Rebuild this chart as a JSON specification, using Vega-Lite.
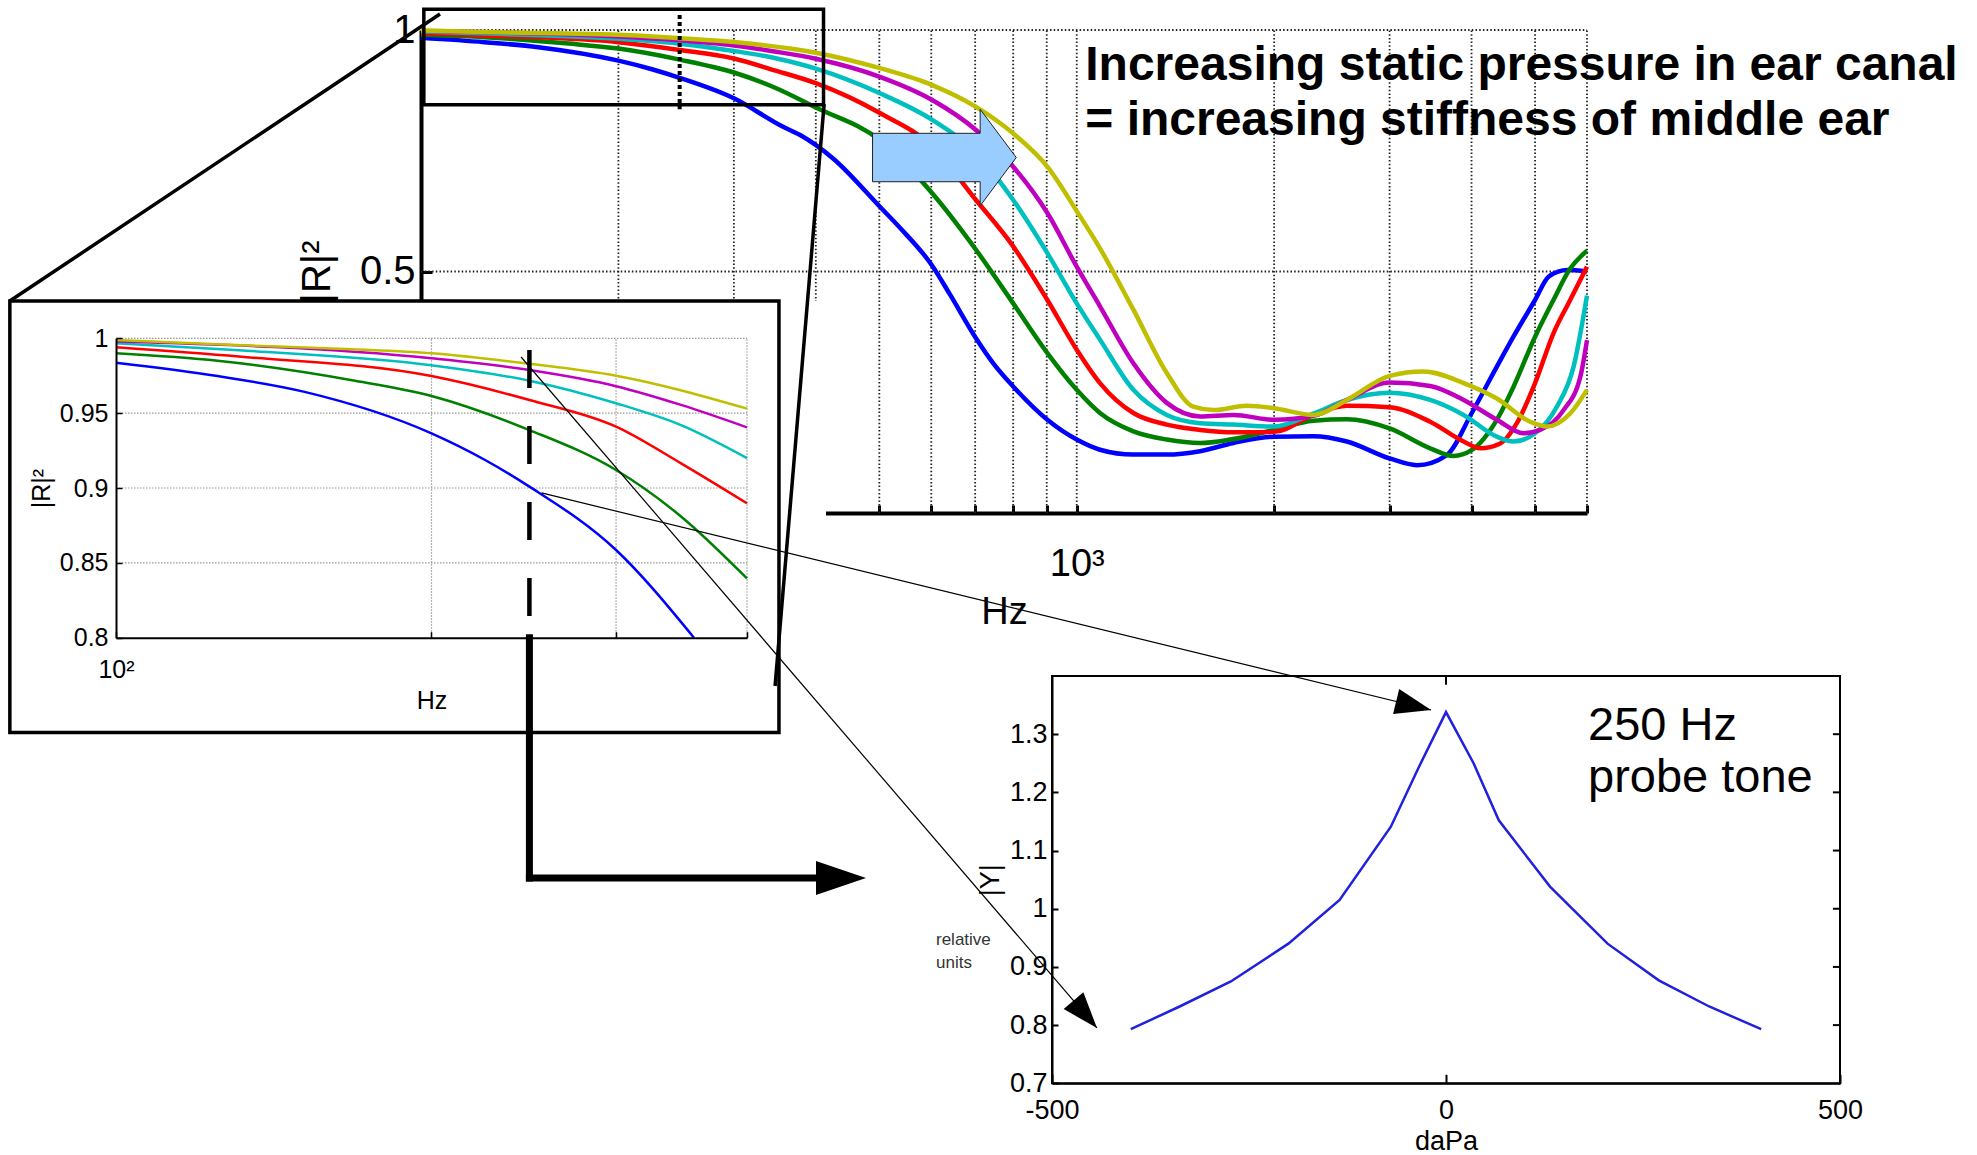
{
"$schema":"https://vega.github.io/schema/vega-lite/v6.json",
"width":1977,"height":1155,"padding":0,"autosize":{"type":"none"},"background":"white",
"config":{"view":{"stroke":null},
"axis":{"labelFont":"Liberation Sans","titleFont":"Liberation Sans","labelColor":"#000","titleColor":"#000","domainColor":"#000","tickColor":"#000","titleFontWeight":"normal","grid":false,"labelOverlap":false,"labelFlush":false,"labelBound":false},
"text":{"font":"Liberation Sans"}},
"datasets":{
"curves":[
{"s":"blue","f":100,"r":0.9837},{"s":"blue","f":125,"r":0.9748},{"s":"blue","f":151,"r":0.9644},{"s":"blue","f":200,"r":0.9365},{"s":"blue","f":225,"r":0.9187},{"s":"blue","f":248,"r":0.9009},{"s":"blue","f":300,"r":0.8586},{"s":"blue","f":356,"r":0.8},{"s":"blue","f":378,"r":0.783},{"s":"blue","f":425,"r":0.734},{"s":"blue","f":501,"r":0.634},{"s":"blue","f":538,"r":0.59},{"s":"blue","f":602,"r":0.512},{"s":"blue","f":641,"r":0.452},{"s":"blue","f":702,"r":0.362},{"s":"blue","f":746,"r":0.31},{"s":"blue","f":800,"r":0.262},{"s":"blue","f":902,"r":0.193},{"s":"blue","f":1000,"r":0.152},{"s":"blue","f":1085,"r":0.131},{"s":"blue","f":1220,"r":0.121},{"s":"blue","f":1372,"r":0.121},{"s":"blue","f":1542,"r":0.128},{"s":"blue","f":1734,"r":0.145},{"s":"blue","f":2000,"r":0.158},{"s":"blue","f":2296,"r":0.159},{"s":"blue","f":2582,"r":0.148},{"s":"blue","f":3000,"r":0.113},{"s":"blue","f":3302,"r":0.099},{"s":"blue","f":3668,"r":0.12},{"s":"blue","f":4000,"r":0.206},{"s":"blue","f":4372,"r":0.303},{"s":"blue","f":4634,"r":0.365},{"s":"blue","f":5000,"r":0.441},{"s":"blue","f":5250,"r":0.49},{"s":"blue","f":5600,"r":0.503},{"s":"blue","f":6000,"r":0.5},
{"s":"green","f":100,"r":0.99},{"s":"green","f":125,"r":0.985},{"s":"green","f":168,"r":0.972},{"s":"green","f":200,"r":0.9615},{"s":"green","f":248,"r":0.9387},{"s":"green","f":300,"r":0.912},{"s":"green","f":346,"r":0.881},{"s":"green","f":400,"r":0.8396},{"s":"green","f":501,"r":0.772},{"s":"green","f":602,"r":0.662},{"s":"green","f":702,"r":0.545},{"s":"green","f":800,"r":0.434},{"s":"green","f":902,"r":0.331},{"s":"green","f":1000,"r":0.255},{"s":"green","f":1085,"r":0.207},{"s":"green","f":1220,"r":0.169},{"s":"green","f":1372,"r":0.152},{"s":"green","f":1542,"r":0.145},{"s":"green","f":1714,"r":0.152},{"s":"green","f":2000,"r":0.172},{"s":"green","f":2296,"r":0.191},{"s":"green","f":2582,"r":0.194},{"s":"green","f":3000,"r":0.175},{"s":"green","f":3459,"r":0.134},{"s":"green","f":3754,"r":0.118},{"s":"green","f":4000,"r":0.13},{"s":"green","f":4372,"r":0.193},{"s":"green","f":4634,"r":0.261},{"s":"green","f":5000,"r":0.365},{"s":"green","f":5333,"r":0.441},{"s":"green","f":5650,"r":0.505},{"s":"green","f":6000,"r":0.543},
{"s":"red","f":100,"r":0.994},{"s":"red","f":131,"r":0.9878},{"s":"red","f":200,"r":0.9748},{"s":"red","f":248,"r":0.9588},{"s":"red","f":300,"r":0.941},{"s":"red","f":346,"r":0.9165},{"s":"red","f":400,"r":0.8898},{"s":"red","f":501,"r":0.828},{"s":"red","f":602,"r":0.759},{"s":"red","f":702,"r":0.648},{"s":"red","f":800,"r":0.552},{"s":"red","f":902,"r":0.441},{"s":"red","f":1000,"r":0.338},{"s":"red","f":1085,"r":0.269},{"s":"red","f":1220,"r":0.207},{"s":"red","f":1372,"r":0.183},{"s":"red","f":1542,"r":0.172},{"s":"red","f":1734,"r":0.167},{"s":"red","f":2000,"r":0.168},{"s":"red","f":2296,"r":0.203},{"s":"red","f":2582,"r":0.222},{"s":"red","f":3000,"r":0.219},{"s":"red","f":3459,"r":0.189},{"s":"red","f":3890,"r":0.148},{"s":"red","f":4124,"r":0.134},{"s":"red","f":4424,"r":0.144},{"s":"red","f":4690,"r":0.186},{"s":"red","f":5000,"r":0.269},{"s":"red","f":5333,"r":0.372},{"s":"red","f":5656,"r":0.441},{"s":"red","f":6000,"r":0.51},
{"s":"cyan","f":100,"r":0.9967},{"s":"cyan","f":131,"r":0.992},{"s":"cyan","f":200,"r":0.982},{"s":"cyan","f":248,"r":0.9717},{"s":"cyan","f":300,"r":0.9566},{"s":"cyan","f":346,"r":0.942},{"s":"cyan","f":400,"r":0.92},{"s":"cyan","f":501,"r":0.869},{"s":"cyan","f":602,"r":0.814},{"s":"cyan","f":702,"r":0.745},{"s":"cyan","f":800,"r":0.648},{"s":"cyan","f":902,"r":0.538},{"s":"cyan","f":1000,"r":0.434},{"s":"cyan","f":1085,"r":0.359},{"s":"cyan","f":1220,"r":0.255},{"s":"cyan","f":1372,"r":0.203},{"s":"cyan","f":1542,"r":0.186},{"s":"cyan","f":1734,"r":0.183},{"s":"cyan","f":2000,"r":0.179},{"s":"cyan","f":2296,"r":0.206},{"s":"cyan","f":2582,"r":0.234},{"s":"cyan","f":3000,"r":0.249},{"s":"cyan","f":3459,"r":0.234},{"s":"cyan","f":3890,"r":0.203},{"s":"cyan","f":4372,"r":0.158},{"s":"cyan","f":4634,"r":0.148},{"s":"cyan","f":5000,"r":0.165},{"s":"cyan","f":5397,"r":0.22},{"s":"cyan","f":5724,"r":0.303},{"s":"cyan","f":6000,"r":0.45},
{"s":"magenta","f":100,"r":0.9978},{"s":"magenta","f":200,"r":0.9866},{"s":"magenta","f":248,"r":0.9788},{"s":"magenta","f":300,"r":0.968},{"s":"magenta","f":346,"r":0.9555},{"s":"magenta","f":400,"r":0.9405},{"s":"magenta","f":501,"r":0.903},{"s":"magenta","f":602,"r":0.855},{"s":"magenta","f":702,"r":0.793},{"s":"magenta","f":800,"r":0.717},{"s":"magenta","f":902,"r":0.621},{"s":"magenta","f":1000,"r":0.51},{"s":"magenta","f":1085,"r":0.428},{"s":"magenta","f":1220,"r":0.31},{"s":"magenta","f":1372,"r":0.228},{"s":"magenta","f":1542,"r":0.2},{"s":"magenta","f":1734,"r":0.203},{"s":"magenta","f":2000,"r":0.193},{"s":"magenta","f":2296,"r":0.201},{"s":"magenta","f":2582,"r":0.234},{"s":"magenta","f":3000,"r":0.27},{"s":"magenta","f":3459,"r":0.263},{"s":"magenta","f":3890,"r":0.234},{"s":"magenta","f":4372,"r":0.193},{"s":"magenta","f":4800,"r":0.165},{"s":"magenta","f":5090,"r":0.172},{"s":"magenta","f":5526,"r":0.213},{"s":"magenta","f":5861,"r":0.282},{"s":"magenta","f":6000,"r":0.358},
{"s":"yellow","f":100,"r":0.9989},{"s":"yellow","f":130,"r":0.9955},{"s":"yellow","f":168,"r":0.9927},{"s":"yellow","f":200,"r":0.99},{"s":"yellow","f":248,"r":0.983},{"s":"yellow","f":300,"r":0.975},{"s":"yellow","f":400,"r":0.953},{"s":"yellow","f":501,"r":0.921},{"s":"yellow","f":602,"r":0.886},{"s":"yellow","f":702,"r":0.841},{"s":"yellow","f":800,"r":0.786},{"s":"yellow","f":902,"r":0.717},{"s":"yellow","f":1000,"r":0.625},{"s":"yellow","f":1085,"r":0.548},{"s":"yellow","f":1220,"r":0.421},{"s":"yellow","f":1372,"r":0.29},{"s":"yellow","f":1506,"r":0.22},{"s":"yellow","f":1616,"r":0.213},{"s":"yellow","f":1817,"r":0.222},{"s":"yellow","f":2000,"r":0.217},{"s":"yellow","f":2296,"r":0.203},{"s":"yellow","f":2582,"r":0.234},{"s":"yellow","f":3000,"r":0.284},{"s":"yellow","f":3380,"r":0.293},{"s":"yellow","f":3890,"r":0.269},{"s":"yellow","f":4372,"r":0.237},{"s":"yellow","f":4914,"r":0.189},{"s":"yellow","f":5212,"r":0.179},{"s":"yellow","f":5656,"r":0.206},{"s":"yellow","f":6000,"r":0.255}
],
"tymp":[{"p":-400,"y":0.793},{"p":-338,"y":0.832},{"p":-273,"y":0.875},{"p":-200,"y":0.94},{"p":-135,"y":1.015},{"p":-70,"y":1.141},{"p":-35,"y":1.242},{"p":0,"y":1.338},{"p":35,"y":1.25},{"p":67,"y":1.152},{"p":132,"y":1.038},{"p":205,"y":0.94},{"p":270,"y":0.877},{"p":334,"y":0.832},{"p":400,"y":0.793}],
"mainVGrid":[{"f":200},{"f":300},{"f":400},{"f":500},{"f":600},{"f":700},{"f":800},{"f":900},{"f":1000},{"f":2000},{"f":3000},{"f":4000},{"f":5000},{"f":6000}],
"mainHGrid":[{"r":0.5},{"r":1}],
"insetVGrid":[{"f":200},{"f":300},{"f":400}],
"insetHGrid":[{"r":0.85},{"r":0.9},{"r":0.95},{"r":1}],
"botTicks":[{"y":0.8},{"y":0.9},{"y":1},{"y":1.1},{"y":1.2},{"y":1.3}],
"one":[{}]
},
"resolve":{"scale":{"x":"independent","y":"independent"}},
"layer":[
{"layer":[
{"data":{"name":"mainVGrid"},"mark":{"type":"rule","stroke":"#222","strokeWidth":1.8,"strokeDash":[1.5,2.2]},
"encoding":{"x":{"field":"f","type":"quantitative","scale":{"type":"log","domain":[100,6000],"range":[421,1587],"nice":false}},
"y":{"datum":0,"type":"quantitative","scale":{"type":"linear","domain":[0,1],"range":[513,30],"nice":false,"zero":false}},"y2":{"datum":1}}},
{"data":{"name":"mainHGrid"},"mark":{"type":"rule","stroke":"#222","strokeWidth":1.8,"strokeDash":[1.5,2.2]},
"encoding":{"y":{"field":"r","type":"quantitative","scale":{"type":"linear","domain":[0,1],"range":[513,30],"nice":false,"zero":false}},
"x":{"datum":100,"type":"quantitative","scale":{"type":"log","domain":[100,6000],"range":[421,1587],"nice":false}},"x2":{"datum":6000}}},
{"data":{"name":"curves"},"mark":{"type":"line","strokeWidth":4.5,"interpolate":"monotone"},
"encoding":{"x":{"field":"f","type":"quantitative","scale":{"type":"log","domain":[100,6000],"range":[421,1587],"nice":false},
"axis":{"orient":"bottom","offset":-642,"values":[200,300,400,500,600,700,800,900,1000,2000,3000,4000,5000,6000],"labelExpr":"datum.value == 1000 ? '10³' : ''","labelFontSize":38,"labelPadding":40,"tickSize":-8,"tickWidth":3,"domainWidth":4,"title":"Hz","titleFontSize":38,"titlePadding":10,"zindex":0}},
"y":{"field":"r","type":"quantitative","scale":{"type":"linear","domain":[0,1],"range":[513,30],"nice":false,"zero":false},
"axis":{"orient":"left","offset":-421,"values":[0.5,1],"format":"~g","labelFontSize":40,"labelPadding":17,"tickSize":-11,"tickWidth":3,"domainWidth":4,"title":"|R|²","titleFontSize":40,"titlePadding":22,"zindex":0}},
"color":{"field":"s","type":"nominal","scale":{"domain":["blue","green","red","cyan","magenta","yellow"],"range":["#0000ff","#008000","#ff0000","#00bfbf","#bf00bf","#bfbf00"]},"legend":null}}},
{"data":{"name":"one"},"mark":{"type":"rect","filled":false,"stroke":"#000","strokeWidth":3.5},
"encoding":{"x":{"datum":101,"type":"quantitative","scale":{"type":"log","domain":[100,6000],"range":[421,1587],"nice":false}},"x2":{"datum":411},
"y":{"datum":1.043,"type":"quantitative","scale":{"type":"linear","domain":[0,1],"range":[513,30],"nice":false,"zero":false}},"y2":{"datum":0.845}}},
{"data":{"name":"one"},"mark":{"type":"rule","stroke":"#000","strokeWidth":4,"strokeDash":[4,3]},
"encoding":{"x":{"datum":248,"type":"quantitative","scale":{"type":"log","domain":[100,6000],"range":[421,1587],"nice":false}},
"y":{"datum":1.031,"type":"quantitative","scale":{"type":"linear","domain":[0,1],"range":[513,30],"nice":false,"zero":false}},"y2":{"datum":0.836}}},
{"data":{"name":"one"},"mark":{"type":"point","shape":"M-1,-0.337L0.498,-0.337L0.498,-0.672L1,0L0.498,0.672L0.498,0.337L-1,0.337Z","size":20650,"filled":true,"fill":"#99ccff","stroke":"#222","strokeWidth":1,"opacity":1},
"encoding":{"x":{"datum":628.3,"type":"quantitative","scale":{"type":"log","domain":[100,6000],"range":[421,1587],"nice":false}},
"y":{"datum":0.736,"type":"quantitative","scale":{"type":"linear","domain":[0,1],"range":[513,30],"nice":false,"zero":false}}}},
{"data":{"name":"one"},"mark":{"type":"text","text":"Increasing static pressure in ear canal","align":"left","baseline":"alphabetic","fontSize":48,"fontWeight":"bold","font":"Liberation Sans","color":"#000"},
"encoding":{"x":{"datum":1030.4,"type":"quantitative","scale":{"type":"log","domain":[100,6000],"range":[421,1587],"nice":false}},
"y":{"datum":0.8965,"type":"quantitative","scale":{"type":"linear","domain":[0,1],"range":[513,30],"nice":false,"zero":false}}}},
{"data":{"name":"one"},"mark":{"type":"text","text":"= increasing stiffness of middle ear","align":"left","baseline":"alphabetic","fontSize":48,"fontWeight":"bold","font":"Liberation Sans","color":"#000"},
"encoding":{"x":{"datum":1030.4,"type":"quantitative","scale":{"type":"log","domain":[100,6000],"range":[421,1587],"nice":false}},
"y":{"datum":0.7826,"type":"quantitative","scale":{"type":"linear","domain":[0,1],"range":[513,30],"nice":false,"zero":false}}}}
]},
{"layer":[
{"data":{"name":"one"},"mark":{"type":"rect","fill":"white","stroke":null},
"encoding":{"x":{"datum":79.2,"type":"quantitative","scale":{"type":"log","domain":[100,400],"range":[116,747],"nice":false}},"x2":{"datum":475.8},
"y":{"datum":1.0249,"type":"quantitative","scale":{"type":"linear","domain":[0.8,1],"range":[637.7,338.3],"nice":false,"zero":false}},"y2":{"datum":0.7343}}},
{"data":{"name":"insetVGrid"},"mark":{"type":"rule","stroke":"#999","strokeWidth":1.2,"strokeDash":[1.5,1.5]},
"encoding":{"x":{"field":"f","type":"quantitative","scale":{"type":"log","domain":[100,400],"range":[116,747],"nice":false}},
"y":{"datum":0.8,"type":"quantitative","scale":{"type":"linear","domain":[0.8,1],"range":[637.7,338.3],"nice":false,"zero":false}},"y2":{"datum":1}}},
{"data":{"name":"insetHGrid"},"mark":{"type":"rule","stroke":"#999","strokeWidth":1.2,"strokeDash":[1.5,1.5]},
"encoding":{"y":{"field":"r","type":"quantitative","scale":{"type":"linear","domain":[0.8,1],"range":[637.7,338.3],"nice":false,"zero":false}},
"x":{"datum":100,"type":"quantitative","scale":{"type":"log","domain":[100,400],"range":[116,747],"nice":false}},"x2":{"datum":400}}},
{"data":{"name":"curves"},"transform":[{"filter":"datum.f <= 400 && datum.r >= 0.8"}],"mark":{"type":"line","strokeWidth":2.5,"interpolate":"monotone"},
"encoding":{"x":{"field":"f","type":"quantitative","scale":{"type":"log","domain":[100,400],"range":[116,747],"nice":false},
"axis":{"orient":"bottom","offset":-517.3,"values":[100,200,300,400],"labelExpr":"datum.value == 100 ? '10²' : ''","labelFontSize":25,"labelPadding":26,"tickSize":-6,"tickWidth":1.5,"domainWidth":2,"title":"Hz","titleFontSize":25,"titlePadding":6,"zindex":1}},
"y":{"field":"r","type":"quantitative","scale":{"type":"linear","domain":[0.8,1],"range":[637.7,338.3],"nice":false,"zero":false},
"axis":{"orient":"left","offset":-116,"values":[0.8,0.85,0.9,0.95,1],"format":"~g","labelFontSize":25,"labelPadding":14,"tickSize":-6,"tickWidth":1.5,"domainWidth":2,"title":"|R|²","titleFontSize":25,"titlePadding":5,"zindex":1}},
"color":{"field":"s","type":"nominal","scale":{"domain":["blue","green","red","cyan","magenta","yellow"],"range":["#0000ff","#008000","#ff0000","#00bfbf","#bf00bf","#bfbf00"]},"legend":null}}},
{"data":{"name":"one"},"mark":{"type":"rule","stroke":"#000","strokeWidth":4.5,"strokeDash":[38,38]},
"encoding":{"x":{"datum":248,"type":"quantitative","scale":{"type":"log","domain":[100,400],"range":[116,747],"nice":false}},
"y":{"datum":0.9922,"type":"quantitative","scale":{"type":"linear","domain":[0.8,1],"range":[637.7,338.3],"nice":false,"zero":false}},"y2":{"datum":0.8132}}},
{"data":{"name":"one"},"mark":{"type":"rect","filled":false,"stroke":"#000","strokeWidth":3.5},
"encoding":{"x":{"datum":79.2,"type":"quantitative","scale":{"type":"log","domain":[100,400],"range":[116,747],"nice":false}},"x2":{"datum":429.1},
"y":{"datum":1.0249,"type":"quantitative","scale":{"type":"linear","domain":[0.8,1],"range":[637.7,338.3],"nice":false,"zero":false}},"y2":{"datum":0.7367}}}
]},
{"layer":[
{"data":{"name":"one"},"mark":{"type":"rule","stroke":"#000","strokeWidth":3.5},
"encoding":{"x":{"datum":23.6,"type":"quantitative","scale":{"type":"log","domain":[100,6000],"range":[421,1587],"nice":false},"axis":null},"x2":{"datum":106.9},
"y":{"datum":0.4389,"type":"quantitative","scale":{"type":"linear","domain":[0,1],"range":[513,30],"nice":false,"zero":false},"axis":null},"y2":{"datum":1.0331}}},
{"data":{"name":"one"},"mark":{"type":"rule","stroke":"#000","strokeWidth":3.5},
"encoding":{"x":{"datum":411.9,"type":"quantitative","scale":{"type":"log","domain":[100,6000],"range":[421,1587],"nice":false},"axis":null},"x2":{"datum":346.7},
"y":{"datum":0.8468,"type":"quantitative","scale":{"type":"linear","domain":[0,1],"range":[513,30],"nice":false,"zero":false},"axis":null},"y2":{"datum":-0.3582}}}
]},
{"layer":[
{"data":{"name":"one"},"mark":{"type":"rule","stroke":"#000","strokeWidth":1.2},
"encoding":{"x":{"datum":243.5,"type":"quantitative","scale":{"type":"log","domain":[100,400],"range":[116,747],"nice":false},"axis":null},"x2":{"datum":862.9},
"y":{"datum":0.9875,"type":"quantitative","scale":{"type":"linear","domain":[0.8,1],"range":[637.7,338.3],"nice":false,"zero":false},"axis":null},"y2":{"datum":0.5393}}},
{"data":{"name":"one"},"mark":{"type":"point","shape":"M0,0L-2,-0.72L-2,0.72Z","size":1296,"angle":49.4,"filled":true,"fill":"#000","opacity":1},
"encoding":{"x":{"datum":862.9,"type":"quantitative","scale":{"type":"log","domain":[100,400],"range":[116,747],"nice":false},"axis":null},
"y":{"datum":0.5393,"type":"quantitative","scale":{"type":"linear","domain":[0.8,1],"range":[637.7,338.3],"nice":false,"zero":false},"axis":null}}},
{"data":{"name":"one"},"mark":{"type":"rule","stroke":"#000","strokeWidth":1.2},
"encoding":{"x":{"datum":254.7,"type":"quantitative","scale":{"type":"log","domain":[100,400],"range":[116,747],"nice":false},"axis":null},"x2":{"datum":1798},
"y":{"datum":0.8967,"type":"quantitative","scale":{"type":"linear","domain":[0.8,1],"range":[637.7,338.3],"nice":false,"zero":false},"axis":null},"y2":{"datum":0.7517}}},
{"data":{"name":"one"},"mark":{"type":"point","shape":"M0,0L-2,-0.72L-2,0.72Z","size":1296,"angle":13.7,"filled":true,"fill":"#000","opacity":1},
"encoding":{"x":{"datum":1798,"type":"quantitative","scale":{"type":"log","domain":[100,400],"range":[116,747],"nice":false},"axis":null},
"y":{"datum":0.7517,"type":"quantitative","scale":{"type":"linear","domain":[0.8,1],"range":[637.7,338.3],"nice":false,"zero":false},"axis":null}}},
{"data":{"name":"one"},"mark":{"type":"rule","stroke":"#000","strokeWidth":7,"strokeCap":"square"},
"encoding":{"x":{"datum":248,"type":"quantitative","scale":{"type":"log","domain":[100,400],"range":[116,747],"nice":false},"axis":null},
"y":{"datum":0.8,"type":"quantitative","scale":{"type":"linear","domain":[0.8,1],"range":[637.7,338.3],"nice":false,"zero":false},"axis":null},"y2":{"datum":0.6395}}},
{"data":{"name":"one"},"mark":{"type":"rule","stroke":"#000","strokeWidth":7,"strokeCap":"square"},
"encoding":{"x":{"datum":248,"type":"quantitative","scale":{"type":"log","domain":[100,400],"range":[116,747],"nice":false},"axis":null},"x2":{"datum":465.5},
"y":{"datum":0.6395,"type":"quantitative","scale":{"type":"linear","domain":[0.8,1],"range":[637.7,338.3],"nice":false,"zero":false},"axis":null}}},
{"data":{"name":"one"},"mark":{"type":"point","shape":"M0,0L-2,-0.68L-2,0.68Z","size":2500,"angle":0,"filled":true,"fill":"#000","opacity":1},
"encoding":{"x":{"datum":519.5,"type":"quantitative","scale":{"type":"log","domain":[100,400],"range":[116,747],"nice":false},"axis":null},
"y":{"datum":0.6395,"type":"quantitative","scale":{"type":"linear","domain":[0.8,1],"range":[637.7,338.3],"nice":false,"zero":false},"axis":null}}}
]},
{"layer":[
{"data":{"name":"one"},"mark":{"type":"rect","filled":false,"stroke":"#000","strokeWidth":2},
"encoding":{"x":{"datum":-500,"type":"quantitative","scale":{"type":"linear","domain":[-500,500],"range":[1052,1840],"nice":false,"zero":false}},"x2":{"datum":500},
"y":{"datum":0.7,"type":"quantitative","scale":{"type":"linear","domain":[0.7,1.4],"range":[1083.3,676],"nice":false,"zero":false}},"y2":{"datum":1.4}}},
{"data":{"name":"botTicks"},"mark":{"type":"rule","stroke":"#000","strokeWidth":2},
"encoding":{"y":{"field":"y","type":"quantitative","scale":{"type":"linear","domain":[0.7,1.4],"range":[1083.3,676],"nice":false,"zero":false}},
"x":{"datum":491,"type":"quantitative","scale":{"type":"linear","domain":[-500,500],"range":[1052,1840],"nice":false,"zero":false}},"x2":{"datum":500}}},
{"data":{"name":"one"},"mark":{"type":"rule","stroke":"#000","strokeWidth":2},
"encoding":{"x":{"datum":0,"type":"quantitative","scale":{"type":"linear","domain":[-500,500],"range":[1052,1840],"nice":false,"zero":false}},
"y":{"datum":1.4,"type":"quantitative","scale":{"type":"linear","domain":[0.7,1.4],"range":[1083.3,676],"nice":false,"zero":false}},"y2":{"datum":1.385}}},
{"data":{"name":"tymp"},"mark":{"type":"line","strokeWidth":2.5,"color":"#2020dd"},
"encoding":{"x":{"field":"p","type":"quantitative","scale":{"type":"linear","domain":[-500,500],"range":[1052,1840],"nice":false,"zero":false},
"axis":{"orient":"bottom","offset":-71.7,"values":[-500,0,500],"labelExpr":"toString(datum.value)","labelFontSize":27,"labelPadding":23,"tickSize":-9,"tickWidth":2,"domainWidth":2,"title":"daPa","titleFontSize":27,"titlePadding":5,"zindex":1}},
"y":{"field":"y","type":"quantitative","scale":{"type":"linear","domain":[0.7,1.4],"range":[1083.3,676],"nice":false,"zero":false},
"axis":{"orient":"left","offset":-1052,"values":[0.7,0.8,0.9,1,1.1,1.2,1.3],"format":"~g","labelFontSize":27,"labelPadding":11,"tickSize":-6,"tickWidth":2,"domainWidth":2,"title":"|Y|","titleFontSize":27,"titlePadding":5,"zindex":1}}}},
{"data":{"name":"one"},"mark":{"type":"text","text":"250 Hz","align":"left","baseline":"alphabetic","fontSize":47,"color":"#000"},
"encoding":{"x":{"datum":180.2,"type":"quantitative","scale":{"type":"linear","domain":[-500,500],"range":[1052,1840],"nice":false,"zero":false}},
"y":{"datum":1.29,"type":"quantitative","scale":{"type":"linear","domain":[0.7,1.4],"range":[1083.3,676],"nice":false,"zero":false}}}},
{"data":{"name":"one"},"mark":{"type":"text","text":"probe tone","align":"left","baseline":"alphabetic","fontSize":47,"color":"#000"},
"encoding":{"x":{"datum":180.2,"type":"quantitative","scale":{"type":"linear","domain":[-500,500],"range":[1052,1840],"nice":false,"zero":false}},
"y":{"datum":1.2011,"type":"quantitative","scale":{"type":"linear","domain":[0.7,1.4],"range":[1083.3,676],"nice":false,"zero":false}}}},
{"data":{"name":"one"},"mark":{"type":"text","text":"relative","align":"left","baseline":"alphabetic","fontSize":17,"color":"#333"},
"encoding":{"x":{"datum":-647.2,"type":"quantitative","scale":{"type":"linear","domain":[-500,500],"range":[1052,1840],"nice":false,"zero":false}},
"y":{"datum":0.9377,"type":"quantitative","scale":{"type":"linear","domain":[0.7,1.4],"range":[1083.3,676],"nice":false,"zero":false}}}},
{"data":{"name":"one"},"mark":{"type":"text","text":"units","align":"left","baseline":"alphabetic","fontSize":17,"color":"#333"},
"encoding":{"x":{"datum":-647.2,"type":"quantitative","scale":{"type":"linear","domain":[-500,500],"range":[1052,1840],"nice":false,"zero":false}},
"y":{"datum":0.8976,"type":"quantitative","scale":{"type":"linear","domain":[0.7,1.4],"range":[1083.3,676],"nice":false,"zero":false}}}}
]}
]
}
